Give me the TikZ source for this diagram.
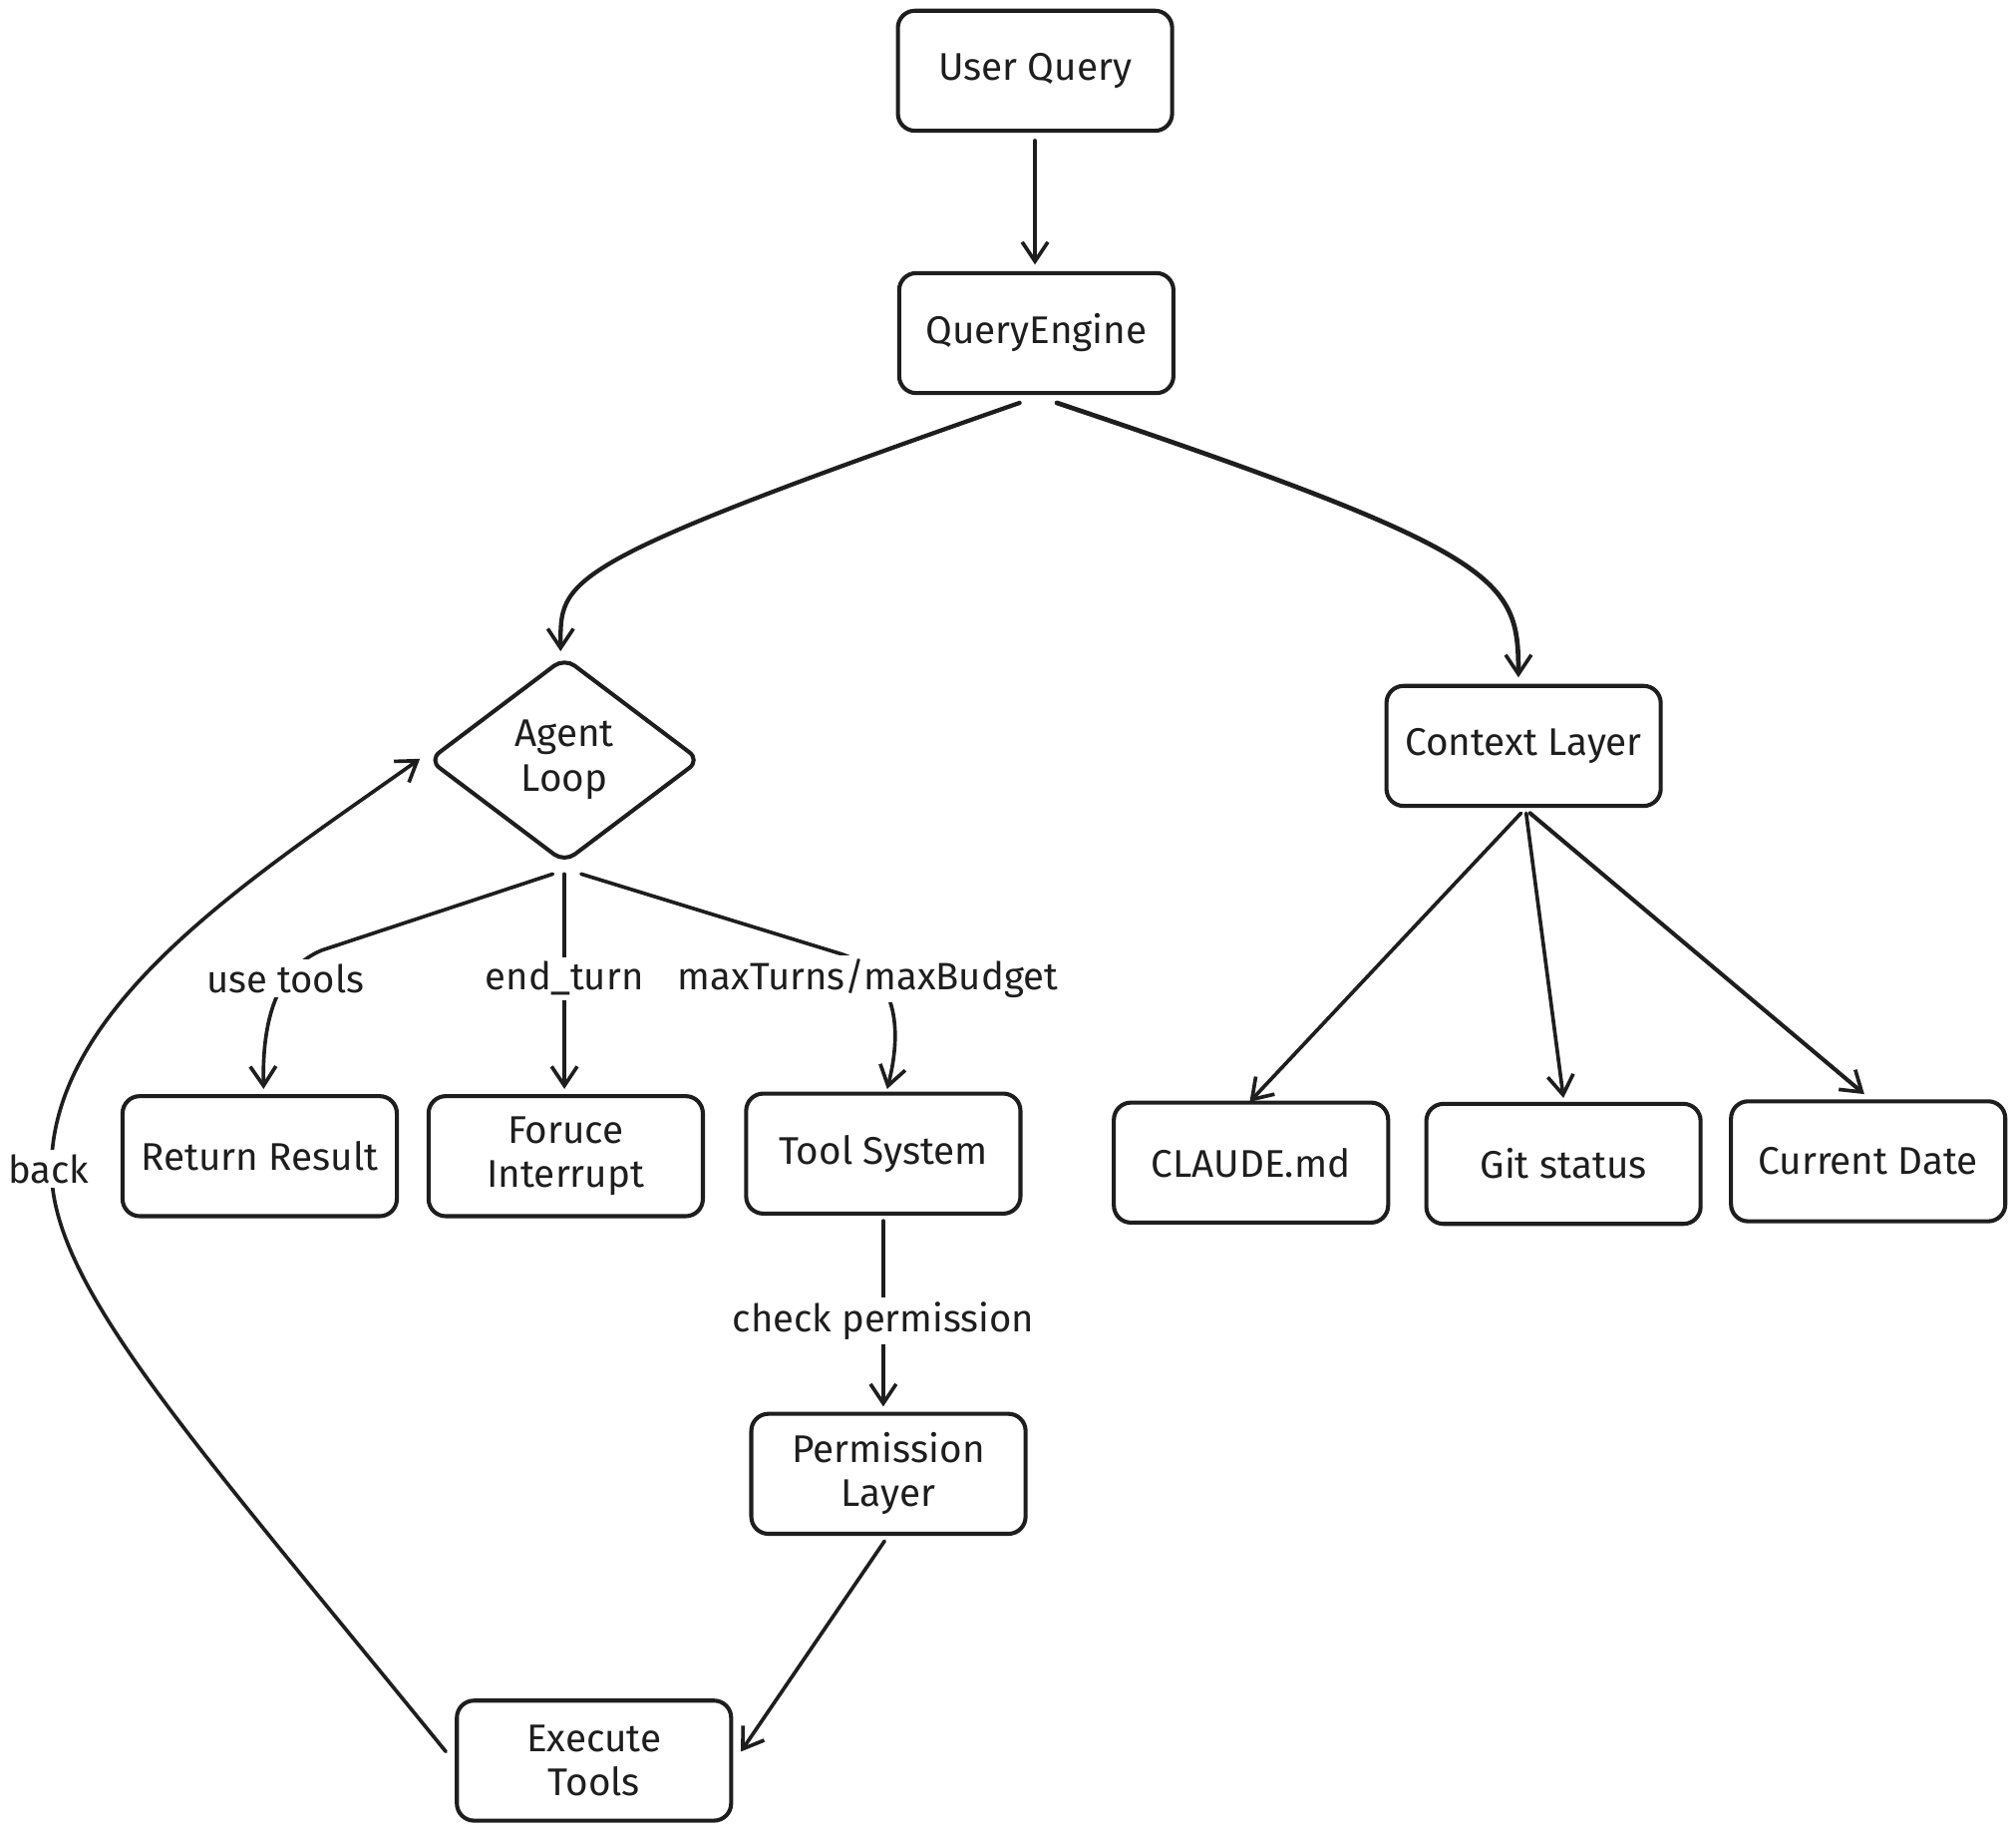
\documentclass[tikz,border=0pt]{standalone}
\usepackage{fontspec}
\setmainfont{Fira Sans}
\usetikzlibrary{arrows.meta,shapes.geometric,calc}
\definecolor{ink}{HTML}{1E1E1E}
\begin{document}
\begin{tikzpicture}[x=0.6pt,y=-0.6pt,
  box/.style={draw=ink, line width=1.9pt, rounded corners=8pt, minimum width=128pt,
    minimum height=56pt, inner sep=0pt, align=center, text=ink,
    font=\fontsize{18}{20.4}\selectfont, fill=white},
  dia/.style={draw=ink, shape=diamond, aspect=1.31, line width=1.9pt, rounded corners=6pt,
    minimum width=127pt, minimum height=96pt, inner sep=0pt, align=center, text=ink,
    font=\fontsize{18}{21}\selectfont},
  arr/.style={draw=ink, line width=1.7pt, line cap=round,
    -{Straight Barb[length=9pt,width=12pt,line width=1.7pt]}},
  lbl/.style={fill=white, inner sep=2pt, text=ink, font=\fontsize{17.8}{20}\selectfont}
]
\useasboundingbox (0,0) rectangle (1568,1424);

\node[box] (uq) at (805,55) {User Query};
\node[box] (qe) at (806,259) {QueryEngine};
\node[dia] (al) at (439,591) {Agent\\Loop};
\node[box] (cl) at (1185,580) {Context Layer};
\node[box] (rr) at (202,899) {Return Result};
\node[box] (fi) at (440,899) {Foruce\\Interrupt};
\node[box] (ts) at (687,897) {Tool System};
\node[box] (cm) at (973,904) {CLAUDE.md};
\node[box] (gs) at (1216,905) {Git status};
\node[box] (cd) at (1453,903) {Current Date};
\node[box] (pl) at (691,1146) {Permission\\Layer};
\node[box] (et) at (462,1369) {Execute\\Tools};

% top
\draw[arr] ($(uq.south)+(0,6)$) -- ($(qe.north)+(-1,-5)$);
\draw[arr, line width=2pt] ($(qe.south)+(-13,6)$) .. controls (430,440) and (436,450) .. ($(al.north)+(-3,-3)$);
\draw[arr, line width=2.2pt] ($(qe.south)+(16,6)$) .. controls (1170,430) and (1181,450) .. ($(cl.north)+(-4,-5)$);

% agent loop outputs
\draw[arr] ($(al.south)+(-9,7)$) -- (250,739) .. controls (212,755) and (204,800) .. ($(rr.north)+(3,-4)$);
\draw[arr] ($(al.south)+(0,7)$) -- ($(fi.north)+(-1,-4)$);
\draw[arr] ($(al.south)+(13,7)$) -- (655,742) .. controls (698,757) and (702,800) .. ($(ts.north)+(3,-2)$);
\node[lbl] (l1) at (222,761) {use tools};
\node[lbl] (l2) at (439,761) {end\_turn};
\node[lbl] (l3) at (675,761) {maxTurns/maxBudget};

% tool chain
\draw[arr] ($(ts.south)+(0,4)$) -- ($(pl.north)+(-4,-4)$);
\node[lbl] (l4) at (687,1027) {check permission};
\draw[arr] ($(pl.south)+(-3,4)$) -- ($(et.east)+(6,-7)$);
\draw[arr] ($(et.west)+(-7,-7)$) .. controls (150,1120) and (40,1000) .. (40,909)
  .. controls (40,780) and (200,680) .. ($(al.west)+(-5,-1)$);
\node[lbl] (l5) at (38,909) {back};

% context
\draw[arr] ($(cl.south)+(-2,4)$) -- ($(cm.north)+(-1,1)$);
\draw[arr] ($(cl.south)+(2,4)$) -- ($(gs.north)+(0,-3)$);
\draw[arr, line width=1.9pt] ($(cl.south)+(5,4)$) -- ($(cd.north)+(-3,-4)$);
\end{tikzpicture}
\end{document}
